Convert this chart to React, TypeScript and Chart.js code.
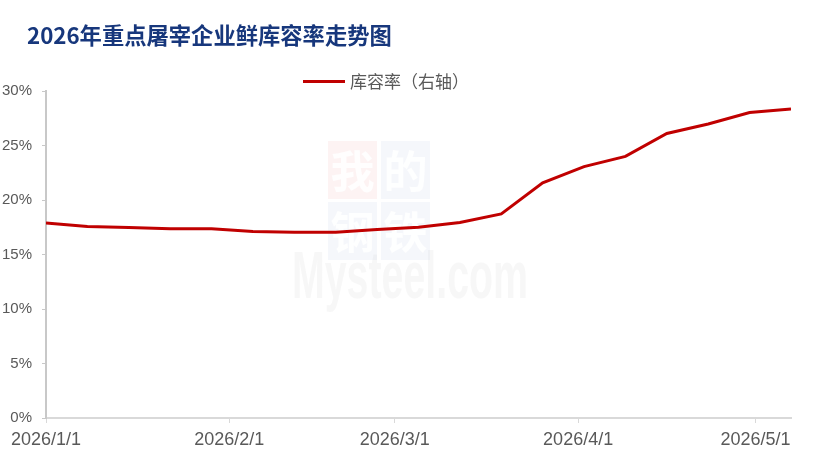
import React, { useEffect, useRef } from "react";
import { Chart, registerables } from "chart.js";

Chart.register(...registerables);

const titleText = "2026年重点屠宰企业鲜库容率走势图";
const seriesName = "库容率（右轴）";

const dates = [
  "2026-01-01", "2026-01-08", "2026-01-15", "2026-01-22", "2026-01-29",
  "2026-02-05", "2026-02-12", "2026-02-19", "2026-02-26",
  "2026-03-05", "2026-03-12", "2026-03-19", "2026-03-26",
  "2026-04-02", "2026-04-09", "2026-04-16", "2026-04-23", "2026-04-30",
  "2026-05-07",
];
const storageRate = [
  17.9, 17.57, 17.48, 17.36, 17.36,
  17.12, 17.05, 17.05, 17.3,
  17.5, 17.93, 18.72, 21.58,
  23.06, 24.0, 26.1, 26.97, 28.02,
  28.36,
];
const xTickDates = ["2026-01-01", "2026-02-01", "2026-03-01", "2026-04-01", "2026-05-01"];
const xTickLabels = ["2026/1/1", "2026/2/1", "2026/3/1", "2026/4/1", "2026/5/1"];
const yTickValues = [0, 5, 10, 15, 20, 25, 30];

const DAY = 86400000;
const base = Date.UTC(2026, 0, 1);
const toDay = (s: string) => {
  const [y, m, d] = s.split("-").map(Number);
  return Math.round((Date.UTC(y, m - 1, d) - base) / DAY);
};

const decorPlugin = {
  id: "decor",
  beforeDatasetsDraw(chart: any) {
    const ctx = chart.ctx;
    ctx.save();
    // watermark
    const boxes = [
      { x: 328, y: 141, c: "rgba(235,120,120,0.09)", t: "我" },
      { x: 381, y: 141, c: "rgba(120,140,200,0.07)", t: "的" },
      { x: 328, y: 202, c: "rgba(120,140,200,0.07)", t: "钢" },
      { x: 381, y: 202, c: "rgba(120,140,200,0.07)", t: "铁" },
    ];
    boxes.forEach((b) => {
      ctx.fillStyle = b.c;
      ctx.fillRect(b.x, b.y, 49, 58);
      ctx.fillStyle = "rgba(255,255,255,0.9)";
      ctx.font = "bold 44px 'Noto Sans CJK SC'";
      ctx.textAlign = "center";
      ctx.textBaseline = "middle";
      ctx.fillText(b.t, b.x + 24.5, b.y + 30);
    });
    ctx.fillStyle = "rgba(200,200,200,0.14)";
    const fs = 66;
    ctx.font = `bold ${fs}px 'Liberation Sans', Arial`;
    const mw = ctx.measureText("Mysteel.com").width;
    const sx = 236 / mw;
    ctx.textAlign = "left";
    ctx.textBaseline = "alphabetic";
    ctx.translate(292, 298);
    ctx.scale(sx, 1);
    ctx.fillText("Mysteel.com", 0, 0);
    ctx.restore();
  },
  afterDraw(chart: any) {
    const ctx = chart.ctx;
    ctx.save();
    // title
    let size = 21;
    ctx.font = `bold ${size}px 'Noto Sans CJK SC'`;
    const w = ctx.measureText(titleText).width;
    size = size * (365 / w);
    ctx.font = `bold ${size}px 'Noto Sans CJK SC'`;
    ctx.fillStyle = "#17377C";
    ctx.textAlign = "left";
    ctx.textBaseline = "middle";
    ctx.fillText(titleText, 27, 36);
    // legend
    ctx.strokeStyle = "#C00000";
    ctx.lineWidth = 3;
    ctx.beginPath();
    ctx.moveTo(303, 81.5);
    ctx.lineTo(345, 81.5);
    ctx.stroke();
    ctx.fillStyle = "#595959";
    ctx.font = "17px 'Noto Sans CJK SC'";
    ctx.textBaseline = "middle";
    ctx.fillText(seriesName, 350, 82);
    ctx.restore();
  },
};

export default function App() {
  const ref = useRef<HTMLCanvasElement | null>(null);
  useEffect(() => {
    if (!ref.current) return;
    const tickDays = xTickDates.map(toDay);
    const chart = new Chart(ref.current, {
      type: "line",
      data: {
        datasets: [
          {
            label: seriesName,
            data: dates.map((d, i) => ({ x: toDay(d), y: storageRate[i] })),
            borderColor: "#C00000",
            backgroundColor: "#C00000",
            borderWidth: 3,
            pointRadius: 0,
            tension: 0,
            fill: false,
          },
        ],
      },
      options: {
        responsive: false,
        animation: false,
        layout: { padding: { top: 91, right: 24, left: 0, bottom: 0 } },
        plugins: {
          legend: { display: false },
          title: { display: false },
          tooltip: { enabled: false },
        },
        scales: {
          x: {
            type: "linear",
            min: 0,
            max: toDay(dates[dates.length - 1]),
            afterBuildTicks: (scale: any) => {
              scale.ticks = tickDays.map((v) => ({ value: v }));
            },
            afterFit: (scale: any) => {
              scale.height = 43;
            },
            ticks: {
              autoSkip: false,
              maxRotation: 0,
              minRotation: 0,
              color: "#595959",
              font: { family: "'Liberation Sans', Arial", size: 18 },
              padding: 6,
              callback: (v: any) => {
                const i = tickDays.indexOf(Number(v));
                return i >= 0 ? xTickLabels[i] : "";
              },
            },
            grid: {
              drawOnChartArea: false,
              drawTicks: true,
              tickLength: 5,
              color: "#D9D9D9",
            },
            border: { display: true, color: "#D9D9D9", width: 2 },
          },
          y: {
            min: 0,
            max: 30,
            afterBuildTicks: (scale: any) => {
              scale.ticks = yTickValues.map((v) => ({ value: v }));
            },
            afterFit: (scale: any) => {
              scale.width = 46;
            },
            ticks: {
              color: "#595959",
              font: { family: "'Liberation Sans', Arial", size: 15 },
              padding: 10,
              callback: (v: any) => `${v}%`,
            },
            grid: {
              drawOnChartArea: false,
              drawTicks: true,
              tickLength: 4,
              color: "#C8C8C8",
            },
            border: { display: true, color: "#C8C8C8", width: 2 },
          },
        },
      },
      plugins: [decorPlugin],
    });
    return () => chart.destroy();
  }, []);
  return (
    <div style={{ position: "fixed", left: 0, top: 0, width: 815, height: 461, background: "#fff" }}>
      <canvas ref={ref} width={815} height={461} style={{ display: "block" }} />
    </div>
  );
}
